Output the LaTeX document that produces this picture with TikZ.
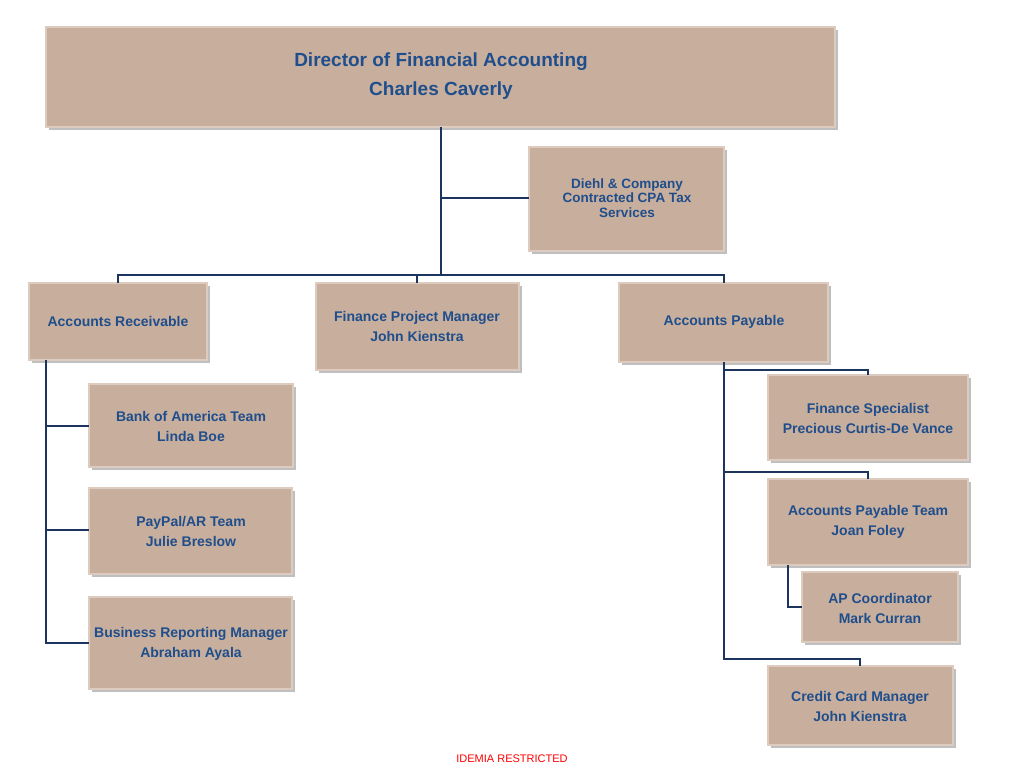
\documentclass[tikz,border=0pt]{standalone}
\usepackage{fontspec}
\setmainfont{Liberation Sans}
\definecolor{boxfill}{HTML}{C8AE9C}
\definecolor{boxedge}{HTML}{DCCBBE}
\definecolor{txt}{HTML}{1F4E8C}
\definecolor{ln}{HTML}{1C355E}
\begin{document}
\begin{tikzpicture}[x=1pt,y=-1pt,
  bx/.style={fill=boxfill,draw=boxedge,line width=2.5pt,drop shadow/.style={}},
  lbl/.style={text=txt,font=\bfseries\fontsize{14}{20}\selectfont,align=center},
  con/.style={draw=ln,line width=2.6pt}]
\useasboundingbox (0,0) rectangle (1024,768);
\newcommand{\bbox}[5]{%
  \fill[black!25] (#2+3,#3+3) rectangle (#4+3,#5+3);
  \draw[bx] (#2,#3) rectangle (#4,#5);
  \coordinate (#1) at ({(#2+#4)/2},{(#3+#5)/2});}
\bbox{dir}{46}{27}{835}{127}
\bbox{diehl}{529}{147}{724}{251}
\bbox{ar}{29}{283}{207}{360}
\bbox{fpm}{316}{283}{519}{370}
\bbox{ap}{619}{283}{828}{362}
\bbox{boa}{89}{384}{293}{467}
\bbox{pp}{89}{488}{292}{574}
\bbox{brm}{89}{597}{292}{689}
\bbox{fs}{768}{375}{968}{460}
\bbox{apt}{768}{479}{968}{565}
\bbox{apc}{802}{572}{958}{642}
\bbox{ccm}{768}{666}{953}{745}
% text
\node[lbl,font=\bfseries\fontsize{19}{29}\selectfont] (tdir) at (441,76) {Director of Financial Accounting\\Charles Caverly};
\node[lbl,font=\bfseries\fontsize{13.5}{14.5}\selectfont] (tdiehl) at (627,198) {Diehl \& Company\\Contracted CPA Tax\\Services};
\node[lbl] (tar) at (118,321) {Accounts Receivable};
\node[lbl] (tfpm) at (417,326) {Finance Project Manager\\John Kienstra};
\node[lbl] (tap) at (724,322) {Accounts Payable};
\node[lbl] (tboa) at (191,426) {Bank of America Team\\Linda Boe};
\node[lbl] (tpp) at (191,531) {PayPal/AR Team\\Julie Breslow};
\node[lbl] (tbrm) at (191,644) {Business Reporting Manager\\Abraham Ayala};
\node[lbl] (tfs) at (868,418) {Finance Specialist\\Precious Curtis-De Vance};
\node[lbl] (tapt) at (868,522) {Accounts Payable Team\\Joan Foley};
\node[lbl] (tapc) at (880,608) {AP Coordinator\\Mark Curran};
\node[lbl] (tccm) at (860,706) {Credit Card Manager\\John Kienstra};
\node[text=red,font=\fontsize{11}{13}\selectfont] (foot) at (512,759) {IDEMIA RESTRICTED};
% connectors
\coordinate (bus) at (441,275);
\draw[con] (441,127) -- (bus);
\draw[con] (441,198) -- (529,198);
\draw[con] (118,283) -- (118,275) -- (724,275) -- (724,283);
\draw[con] (417,275) -- (417,283);
\draw[con] (46,360) -- (46,643) -- (89,643);
\draw[con] (46,426) -- (89,426);
\draw[con] (46,530) -- (89,530);
\draw[con] (724,362) -- (724,659) -- (860,659) -- (860,666);
\draw[con] (724,370) -- (868,370) -- (868,375);
\draw[con] (724,472) -- (868,472) -- (868,479);
\draw[con] (788,565) -- (788,607) -- (802,607);
\end{tikzpicture}
\end{document}
